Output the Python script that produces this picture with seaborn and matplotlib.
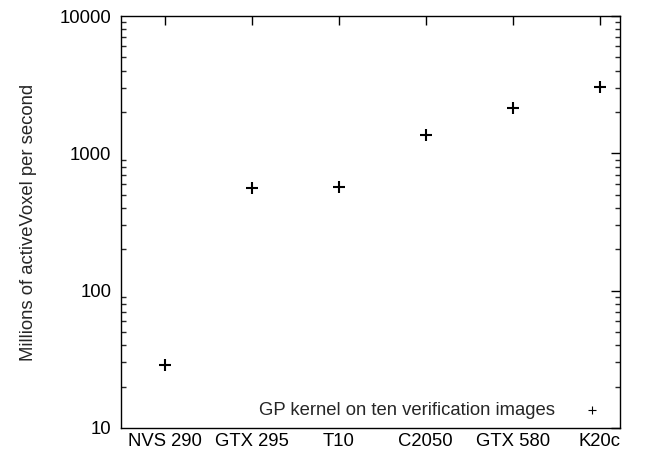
import seaborn as sns
import matplotlib.pyplot as plt
import matplotlib.ticker as ticker
import pandas as pd

# GPU throughput data
gpus = ["NVS 290", "GTX 295", "T10", "C2050", "GTX 580", "K20c"]
voxels = [28.8, 557, 573, 1368, 2128, 3027]
y_ticks = [10, 100, 1000, 10000]

df = pd.DataFrame({"gpu": gpus, "voxels": voxels})

sns.set_style("white")
plt.rcParams["font.family"] = ["Liberation Sans", "DejaVu Sans"]
fs = 13.3

fig = plt.figure(figsize=(6.46, 4.54), dpi=100)
ax = fig.add_axes([121 / 646, 26 / 454, 499 / 646, 412 / 454])

sns.scatterplot(x="gpu", y="voxels", data=df, marker="+", color="black",
                s=70, linewidth=1.5, label="GP kernel on ten verification images", ax=ax)

# Axes styling (gnuplot look)
ax.set_yscale("log")
ax.set_ylim(10, 10000)
ax.set_xlim(-0.5, 5.23)
ax.set_yticks(y_ticks)
ax.yaxis.set_major_formatter(ticker.FuncFormatter(lambda v, p: f"{v:g}"))
ax.yaxis.set_minor_locator(ticker.LogLocator(base=10, subs=range(2, 10)))
ax.yaxis.set_minor_formatter(ticker.NullFormatter())

ax.tick_params(which="major", direction="in", length=6.5, width=1,
               top=True, right=True, labelsize=fs, colors="black")
ax.tick_params(axis="y", which="major", pad=7)
ax.tick_params(which="minor", direction="in", length=3.5, width=1,
               left=True, right=True)
for side in ax.spines.values():
    side.set_color("black")
    side.set_linewidth(1)

ax.set_xlabel("")
ax.set_ylabel("Millions of activeVoxel per second", fontsize=fs, labelpad=16)
leg = ax.legend(loc="lower right", frameon=False, markerfirst=False, fontsize=fs,
                borderaxespad=0.3, handletextpad=1.0, borderpad=0.2)
h = leg.legend_handles[0]
h.set_sizes([40])
h.set_linewidth(0.8)

fig.savefig("out.png", dpi=100)
